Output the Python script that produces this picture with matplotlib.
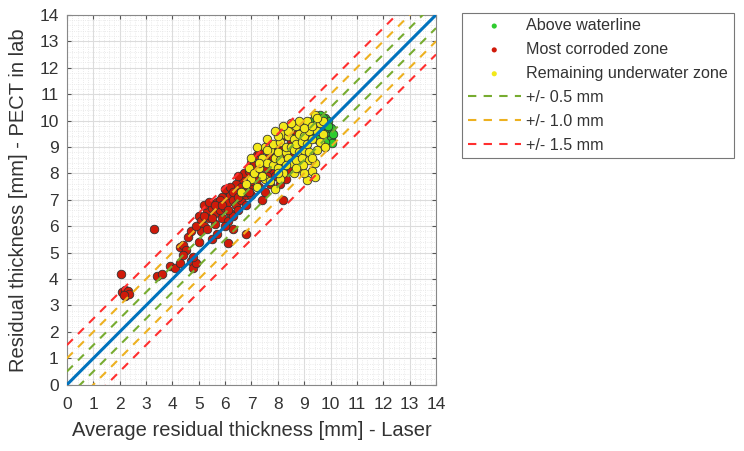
import matplotlib
matplotlib.use("Agg")
import matplotlib.pyplot as plt
import numpy as np
from matplotlib.ticker import MultipleLocator

plt.rcParams['font.family'] = ['Liberation Sans', 'DejaVu Sans']

# ---- data ----
red_x = [2.05, 2.1, 2.2, 2.3, 2.2, 2.35, 2.15, 3.3, 3.4, 3.6, 3.9, 4.1, 4.3, 4.4, 4.5, 4.4, 4.6, 4.3,
         4.7, 4.8, 4.9, 4.8, 4.7, 5.0, 5.1, 5.2, 5.0, 5.1, 5.3, 5.5, 5.4, 5.3, 5.6, 5.6, 5.7, 5.8,
         5.9, 5.5, 5.7, 6.0, 6.0, 6.1, 6.2, 6.2, 6.3, 6.4, 6.1, 6.3, 6.5, 6.6, 6.5, 6.7, 6.8, 6.6,
         6.9, 6.8, 6.1, 6.8, 6.3, 6.9, 7.0, 7.1, 7.2, 7.0, 7.3, 7.4, 7.5, 7.2, 7.6, 7.4, 7.8, 7.7,
         8.0, 8.1, 8.2, 8.3, 8.4, 8.0, 7.9, 8.2, 8.5, 8.3, 8.6, 8.7, 8.5, 7.9, 6.4, 6.7, 7.1, 5.9,
         6.0, 5.2, 4.9, 7.5, 8.6, 8.8, 8.9, 7.6, 6.5, 7.3,
         5.4, 5.8, 6.0, 6.2, 6.4, 6.6, 6.9, 7.1, 5.6, 5.9, 6.3, 6.7, 7.0, 7.3, 7.7, 8.1, 8.4, 7.8,
         5.2, 5.5, 6.1, 6.5, 6.9, 7.2, 7.6, 8.0]
red_y = [4.2, 3.5, 3.6, 3.55, 3.35, 3.45, 3.4, 5.9, 4.1, 4.2, 4.5, 4.4, 5.2, 5.3, 5.1, 4.9, 5.6, 4.6,
         4.7, 4.4, 4.6, 4.85, 5.8, 6.4, 6.2, 6.0, 5.4, 5.8, 6.6, 6.7, 6.3, 5.9, 6.1, 6.5, 6.9, 6.6,
         6.3, 5.5, 5.7, 6.7, 7.1, 6.9, 7.2, 6.5, 7.0, 6.8, 6.2, 6.4, 7.4, 7.0, 6.6, 7.6, 7.2, 7.8,
         7.5, 6.8, 5.35, 5.7, 5.9, 7.9, 7.2, 7.7, 8.1, 8.4, 7.5, 7.9, 8.3, 8.7, 8.6, 7.0, 8.0, 7.6,
         8.5, 7.6, 7.0, 7.8, 8.3, 9.0, 8.8, 8.9, 9.2, 9.4, 8.7, 9.6, 8.1, 7.9, 7.6, 8.0, 8.3, 7.1,
         6.0, 6.8, 6.0, 7.3, 9.8, 9.2, 9.0, 7.9, 7.9, 8.8,
         6.9, 7.0, 7.4, 7.5, 7.3, 7.5, 8.1, 8.0, 6.8, 6.8, 7.3, 7.3, 7.7, 8.0, 8.3, 8.7, 9.0, 8.6,
         6.4, 6.3, 6.6, 7.1, 7.3, 7.8, 8.2, 8.3]

yel_x = [6.9, 7.0, 7.1, 7.3, 7.4, 7.5, 7.6, 7.7, 7.8, 7.9, 7.8, 8.0, 8.0, 8.1, 8.1, 8.2, 8.2, 8.3,
         8.3, 8.4, 8.4, 8.5, 8.5, 8.5, 8.6, 8.6, 8.7, 8.7, 8.7, 8.8, 8.8, 8.9, 8.9, 8.9, 9.0, 9.0,
         9.1, 9.1, 9.2, 9.2, 9.3, 9.3, 9.4, 9.4, 9.4, 9.1, 9.5, 9.5, 9.6, 9.6, 9.7, 7.2, 7.5, 7.7,
         7.9, 8.0, 8.3, 8.6, 8.8, 9.0, 9.2, 8.4, 7.6, 7.4, 8.1, 6.8, 7.0, 9.0, 8.8, 9.3, 9.7, 9.5,
         9.8, 9.3, 8.95, 6.6, 7.2, 7.6, 7.9, 8.2, 8.5, 8.7, 7.3, 8.0]
yel_y = [8.2, 7.8, 8.0, 8.2, 8.6, 7.8, 8.4, 8.9, 8.3, 8.6, 9.1, 8.2, 8.8, 9.2, 8.5, 9.5, 8.0, 8.8,
         9.0, 9.4, 8.6, 9.0, 8.4, 9.7, 9.3, 8.9, 9.8, 8.5, 9.1, 9.5, 8.8, 9.9, 9.2, 8.6, 9.4, 8.9,
         10.0, 9.1, 9.6, 8.5, 9.3, 8.1, 10.2, 8.4, 7.85, 7.75, 8.9, 9.6, 9.9, 9.2, 9.5, 7.5, 9.0, 7.7,
         7.4, 9.4, 8.3, 8.0, 8.2, 8.0, 8.8, 9.6, 8.9, 7.9, 7.8, 7.6, 8.6, 9.7, 10.0, 9.8, 10.0, 10.1,
         9.0, 8.6, 8.3, 7.3, 9.0, 9.3, 9.6, 9.8, 9.9, 8.2, 8.4, 8.0]

grn_x = [8.6, 8.8, 9.0, 9.2, 9.3, 9.5, 9.6, 9.7, 9.8, 9.9, 9.85, 9.9, 10.0, 10.05, 9.7, 9.8, 9.6,
         9.4, 9.3, 10.0, 9.9, 9.7, 9.5, 10.1, 9.2, 9.0]
grn_y = [9.5, 9.7, 9.9, 9.9, 10.0, 9.9, 10.2, 9.9, 10.1, 10.0, 9.6, 9.4, 9.3, 9.15, 9.4, 9.2, 9.6,
         9.5, 9.7, 9.7, 9.8, 10.1, 9.3, 9.5, 9.4, 9.6]

tolerances = [0.5, 1.0, 1.5]
tol_labels = ['+/- 0.5 mm', '+/- 1.0 mm', '+/- 1.5 mm']
tol_colors = ['#77ac30', '#edb120', '#ff2f2f']

fig = plt.figure(figsize=(7.44, 4.51), dpi=100)
ax = fig.add_axes([0.090, 0.147, 0.496, 0.820])

ms = 38
hg = ax.scatter(grn_x, grn_y, s=ms, c='#2ecc2e', edgecolors='#333333', linewidths=0.6,
                label='Above waterline', zorder=3)
hr = ax.scatter(red_x, red_y, s=ms, c='#d01a0a', edgecolors='#333333', linewidths=0.6,
                label='Most corroded zone', zorder=3)
hy = ax.scatter(yel_x, yel_y, s=ms, c='#f2e81a', edgecolors='#333333', linewidths=0.6,
                label='Remaining underwater zone', zorder=3)

xx = np.array([0, 14])
line_handles = []
for t, lab, col in zip(tolerances, tol_labels, tol_colors):
    h, = ax.plot(xx, xx + t, ls=(0, (4, 3.5)), color=col, lw=1.5, label=lab, zorder=4)
    ax.plot(xx, xx - t, ls=(0, (4, 3.5)), color=col, lw=1.5, zorder=4)
    line_handles.append(h)
ax.plot(xx, xx, color='#0072bd', lw=2.2, zorder=5)

ax.set_xlim(0, 14)
ax.set_ylim(0, 14)
ax.xaxis.set_major_locator(MultipleLocator(1))
ax.yaxis.set_major_locator(MultipleLocator(1))
ax.xaxis.set_minor_locator(MultipleLocator(0.2))
ax.yaxis.set_minor_locator(MultipleLocator(0.2))
ax.grid(which='major', color='#dcdcdc', lw=0.8)
ax.grid(which='minor', color='#e4e4e4', lw=0.6, ls=':')
ax.set_axisbelow(True)
ax.tick_params(which='both', direction='in', top=True, right=True, labelsize=12.5,
               color='#555555', labelcolor='#333333')
ax.tick_params(which='minor', length=0)
ax.tick_params(which='major', length=3)
ax.tick_params(axis='x', pad=9)
ax.tick_params(axis='y', pad=6)
for sp in ax.spines.values():
    sp.set_color('#888888')
    sp.set_linewidth(0.8)

ax.set_xlabel('Average residual thickness [mm] - Laser', fontsize=14.5, color='#333333', labelpad=6)
ax.set_ylabel('Residual thickness [mm] - PECT in lab', fontsize=14.5, color='#333333', labelpad=8)

leg = fig.legend(handles=[hg, hr, hy] + line_handles, loc='upper left',
                 bbox_to_anchor=(0.621, 0.972), fontsize=11.6, frameon=True, fancybox=False,
                 edgecolor='#555555', handlelength=3.3, handletextpad=0.35, borderpad=0.35,
                 labelspacing=0.55, markerscale=0.6, borderaxespad=0)
leg.get_frame().set_linewidth(0.8)
for h in leg.legend_handles[:3]:
    h.set_edgecolor('none')
for t in leg.get_texts():
    t.set_color('#333333')

fig.savefig('out.png', dpi=100)
